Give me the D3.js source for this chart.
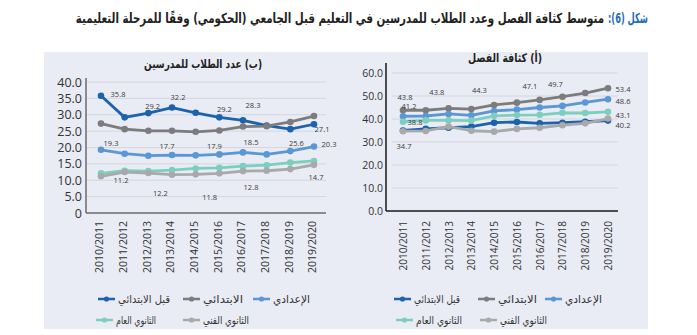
<!DOCTYPE html>
<html><head><meta charset="utf-8">
<script src="https://cdn.jsdelivr.net/npm/d3@7"></script>
<style>body{margin:0;background:#fff}svg{display:block}</style>
</head><body>
<svg id="c" width="697" height="335"></svg>
<script>
// ---------- data ----------
const years = ["2010/2011","2011/2012","2012/2013","2013/2014","2014/2015","2015/2016","2016/2017","2017/2018","2018/2019","2019/2020"];
const seriesNames = ["قبل الابتدائي","الابتدائي","الإعدادي","الثانوي العام","الثانوي الفني"];
const seriesColors = ["#1c62ad","#7c7c7c","#5a97d5","#7ccfbf","#a9a9a9"];

// (ب) students per teacher
const ratioPrePrimary   = [35.8, 29.2, 30.5, 32.2, 30.6, 29.2, 28.3, 26.7, 25.6, 27.1];
const ratioPrimary      = [27.3, 25.6, 25.1, 25.1, 24.8, 25.2, 26.4, 26.5, 27.8, 29.6];
const ratioPrep         = [19.3, 18.1, 17.5, 17.7, 17.6, 17.9, 18.5, 17.9, 18.9, 20.3];
const ratioGeneralSec   = [12.1, 12.9, 12.8, 13.1, 13.6, 13.8, 14.3, 14.6, 15.4, 15.9];
const ratioTechSec      = [11.2, 12.5, 12.2, 11.7, 11.8, 12.1, 12.8, 12.9, 13.4, 14.7];
const ratioTicks        = [0, 5, 10, 15, 20, 25, 30, 35, 40];

// (أ) class density
const densPrePrimary    = [35.0, 35.7, 36.2, 36.7, 38.4, 38.7, 38.1, 38.4, 38.8, 39.3];
const densPrimary       = [43.8, 43.8, 44.6, 44.3, 46.1, 47.1, 48.3, 49.7, 51.3, 53.4];
const densPrep          = [41.2, 41.3, 42.2, 41.6, 43.5, 44.1, 45.0, 45.7, 47.2, 48.6];
const densGeneralSec    = [38.8, 39.4, 39.4, 39.3, 41.4, 41.7, 41.8, 42.7, 42.6, 43.1];
const densTechSec       = [34.7, 34.8, 36.7, 34.9, 34.5, 35.7, 36.2, 37.3, 38.1, 40.2];
const densTicks         = [0, 10, 20, 30, 40, 50, 60];

// which points carry a value label
const ratioLabelIdx = [[0,1,3,5,6,8,9], [], [0,3,5,6,9], [], [0,2,4,6,9]];
const densLabelIdx  = [[], [0,1,3,5,7,9], [0,9], [0,9], [0,9]];

const mainTitleA = "شكل (6):";
const mainTitleB = "متوسط كثافة الفصل وعدد الطلاب للمدرسين في التعليم قبل الجامعي (الحكومي) وفقًا للمرحلة التعليمية";
const titleRatio = "(ب) عدد الطلاب للمدرسين";
const titleDens = "(أ) كثافة الفصل";

// ---------- layout / style ----------
const ratioLabelOff = [
  [[17,-2],[28,-11],[6,-10],[5,-8],[10,-15],[6,14],[8,5]],
  [],
  [[10,-7],[-5,-9],[-5,-8],[8,-10],[15,-2]],
  [],
  [[20,4],[12,20],[14,23],[8,16],[2,12]]
];
const densLabelOff = [
  [],
  [[2,-13],[11,-18],[8,-19],[13,-16],[-7,-12],[15,1]],
  [[6,-10],[15,2]],
  [[12,0],[15,3.5]],
  [[1,15],[15,6.5]]
];
const AR = "'DejaVu Sans', sans-serif";
const NUM = "'Open Sans', 'DejaVu Sans', sans-serif";

const svg = d3.select("#c");
svg.append("rect").attr("x",44).attr("y",52).attr("width",604).attr("height",277).attr("fill","#e9ecf4");

function placeText(g, txt, o){
  const t = g.append("text").attr("x",0).attr("y",o.y).attr("direction","rtl")
    .style("font-family",o.font||AR).style("font-size",o.size+"px")
    .style("font-weight",o.weight||"normal").attr("fill",o.fill||"#333").text(txt);
  const b = t.node().getBBox();
  const s = o.width ? o.width/b.width : (o.scale||1);
  let tx;
  if(o.align==="right") tx = o.x - s*(b.x+b.width);
  else if(o.align==="left") tx = o.x - s*b.x;
  else tx = o.x - s*(b.x+b.width/2);
  t.attr("transform",`translate(${tx},0) scale(${s},1)`);
  return t;
}

// main title
placeText(svg, mainTitleA, {x:648, y:23, size:14, weight:"bold", fill:"#1f6db5", align:"right", width:40});
placeText(svg, mainTitleB, {x:604, y:23, size:14, weight:"bold", fill:"#222", align:"right", width:529});

function drawChart(cfg){
  const g = svg.append("g");
  const x = d3.scalePoint().domain(years).range(cfg.xRange);
  const y = d3.scaleLinear().domain([0, cfg.ticks[cfg.ticks.length-1]]).range(cfg.yRange);
  // gridlines
  g.selectAll(".grid").data(cfg.ticks.filter(d=>d>0)).join("line")
    .attr("x1",cfg.gridX[0]).attr("x2",cfg.gridX[1])
    .attr("y1",d=>y(d)).attr("y2",d=>y(d))
    .attr("stroke","#d3d6de").attr("stroke-width",1);
  // y axis labels
  const ya = d3.axisLeft(y).tickValues(cfg.ticks).tickSize(0).tickPadding(cfg.yPad)
    .tickFormat(d => d===0 ? cfg.zeroFmt : d.toFixed(1));
  const yg = g.append("g").attr("transform",`translate(${cfg.axisX},0)`).call(ya);
  yg.select(".domain").remove();
  yg.selectAll("text").style("font-family",NUM).style("font-size",cfg.yFont+"px").attr("fill","#333");
  // x axis labels
  const xa = d3.axisBottom(x).tickSize(0).tickPadding(0);
  const xg = g.append("g").attr("transform",`translate(0,${cfg.xLabelY})`).call(xa);
  xg.select(".domain").remove();
  xg.selectAll("text").attr("transform",`translate(${cfg.xLabelDx},0) rotate(-90)`)
    .attr("text-anchor","end").attr("dy","0.35em").attr("y",0)
    .style("font-family",NUM).style("font-size",cfg.xFont+"px").attr("fill","#333");
  // axis lines
  g.append("line").attr("x1",cfg.axisX).attr("x2",cfg.axisX).attr("y1",y(cfg.axisTop)).attr("y2",y(0))
    .attr("stroke",cfg.axisColor).attr("stroke-width",1.5);
  g.append("line").attr("x1",cfg.axisX).attr("x2",cfg.xAxisEnd).attr("y1",y(0)).attr("y2",y(0))
    .attr("stroke",cfg.axisColor).attr("stroke-width",1.5);
  // series
  const line = d3.line().x((d,i)=>x(years[i])).y(d=>y(d));
  cfg.series.forEach((vals,si)=>{
    const sg = g.append("g");
    sg.append("path").datum(vals).attr("d",line).attr("fill","none")
      .attr("stroke",seriesColors[si]).attr("stroke-width",2.8).attr("stroke-linejoin","round");
    sg.selectAll("circle").data(vals).join("circle")
      .attr("cx",(d,i)=>x(years[i])).attr("cy",d=>y(d)).attr("r",3.3).attr("fill",seriesColors[si]);
  });
  // value labels
  cfg.series.forEach((vals,si)=>{
    cfg.labelIdx[si].forEach((idx,k)=>{
      const off = cfg.labelOff[si][k];
      g.append("text").attr("x",x(years[idx])+off[0]).attr("y",y(vals[idx])+off[1]+2.8)
        .attr("text-anchor","middle").style("font-family",NUM).style("font-size","7.5px")
        .attr("fill","#3a3a3a").text(vals[idx].toFixed(1));
    });
  });
  return g;
}

drawChart({
  xRange:[101,314], yRange:[213,82], ticks:ratioTicks, gridX:[86,326], axisX:86, xAxisEnd:326,
  axisTop:41.2, axisColor:"#6b6b6b", yPad:4, yFont:12.5, zeroFmt:"0", xLabelY:221, xLabelDx:-2, xFont:10.5,
  series:[ratioPrePrimary, ratioPrimary, ratioPrep, ratioGeneralSec, ratioTechSec],
  labelIdx:ratioLabelIdx, labelOff:ratioLabelOff
});
drawChart({
  xRange:[403,608], yRange:[211,73], ticks:densTicks, gridX:[392,618], axisX:386, xAxisEnd:618,
  axisTop:64.3, axisColor:"#1a1a1a", yPad:3, yFont:10.5, zeroFmt:"0.0", xLabelY:221, xLabelDx:0, xFont:10,
  series:[densPrePrimary, densPrimary, densPrep, densGeneralSec, densTechSec],
  labelIdx:densLabelIdx, labelOff:densLabelOff
});

// chart titles
placeText(svg, titleRatio, {x:203, y:68, size:12, weight:"bold", fill:"#222", align:"center", width:118});
placeText(svg, titleDens, {x:505, y:62, size:12, weight:"bold", fill:"#222", align:"center", width:74});

// legends: [series index, text left x, text width, row y]
function legend(items){
  items.forEach(([si, tx, w, yy])=>{
    const lg = svg.append("g");
    lg.append("line").attr("x1",tx-20).attr("x2",tx-3).attr("y1",yy).attr("y2",yy)
      .attr("stroke",seriesColors[si]).attr("stroke-width",2.5);
    lg.append("circle").attr("cx",tx-11.5).attr("cy",yy).attr("r",2.6).attr("fill",seriesColors[si]);
    placeText(lg, seriesNames[si], {x:tx, y:yy+4, size:11, fill:"#333", align:"left", width:w});
  });
}
legend([[0,118,52,299],[1,203,40,299],[2,273,37,299],[3,116,40,320],[4,203,46,320]]);
legend([[0,414,46,299],[1,498,39,299],[2,565,37,299],[3,416,46,320],[4,500,47,320]]);
</script>
</body></html>
